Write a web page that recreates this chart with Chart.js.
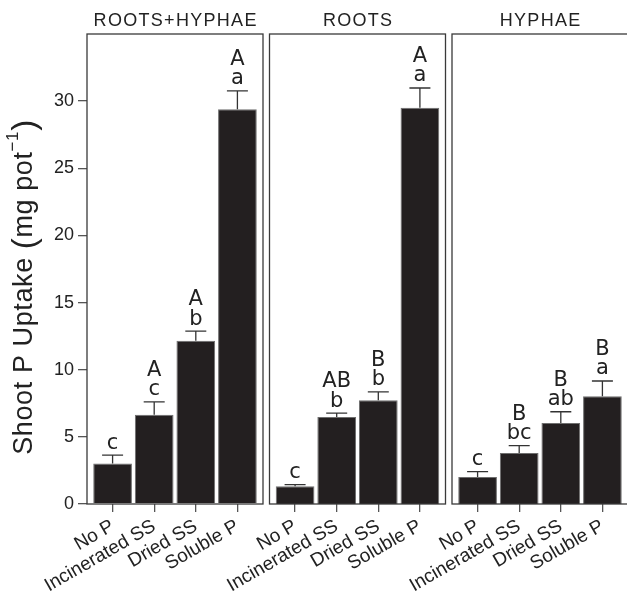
<!DOCTYPE html>
<html>
<head>
<meta charset="utf-8">
<script src="https://cdn.jsdelivr.net/npm/chart.js@4.4.1/dist/chart.umd.min.js"></script>
<style>
  html, body { margin: 0; padding: 0; background: #fff; overflow: hidden; width: 627px; height: 592px; }
  canvas { position: absolute; left: 0; top: 0; }
</style>
</head>
<body>
<canvas id="p1" width="700" height="592"></canvas>
<canvas id="p2" width="700" height="592"></canvas>
<canvas id="p3" width="700" height="592"></canvas>
<script>
// Treatments and panel names
const treatments = ['No P', 'Incinerated SS', 'Dried SS', 'Soluble P'];
const panelTitles = ['ROOTS+HYPHAE', 'ROOTS', 'HYPHAE'];
const yTickValues = [0, 5, 10, 15, 20, 25, 30];

// Shoot P uptake (mg pot-1), means and standard errors
const uptakeRootsHyphae = [3.02, 6.65, 12.15, 29.4];
const seRootsHyphae     = [0.62, 0.95, 0.72, 1.36];
const uptakeRoots       = [1.32, 6.47, 7.72, 29.5];
const seRoots           = [0.12, 0.30, 0.63, 1.48];
const uptakeHyphae      = [2.01, 3.80, 6.04, 8.02];
const seHyphae          = [0.40, 0.54, 0.83, 1.14];

// Significance letters (upper: between compartments, lower: between treatments)
const upperRootsHyphae = ['', 'A', 'A', 'A'];
const lowerRootsHyphae = ['c', 'c', 'b', 'a'];
const upperRoots       = ['', 'AB', 'B', 'A'];
const lowerRoots       = ['c', 'b', 'b', 'a'];
const upperHyphae      = ['', 'B', 'B', 'B'];
const lowerHyphae      = ['c', 'bc', 'ab', 'a'];

// Layout of the three panels
const CANVAS_W = 700;
const PANEL_LEFT = [87, 269.5, 452];
const PANEL_W = 176;
const PLOT_TOP = 34;
const X_AXIS_H = 88;
const FRAME_COLOR = '#3a3a3a';

const panelPlugin = {
  id: 'panelDecor',
  afterDatasetsDraw(chart) {
    const ctx = chart.ctx;
    const ds = chart.data.datasets[0];
    const meta = chart.getDatasetMeta(0);
    const yScale = chart.scales.y;
    ctx.save();
    ctx.strokeStyle = '#333';
    ctx.lineWidth = 1.3;
    ctx.fillStyle = '#222';
    ctx.font = '21px "DejaVu Sans"';
    ctx.textAlign = 'center';
    ctx.textBaseline = 'alphabetic';
    meta.data.forEach((bar, i) => {
      const v = ds.data[i].y;
      const capY = yScale.getPixelForValue(v + ds.errors[i]);
      ctx.beginPath();
      ctx.moveTo(bar.x, bar.y);
      ctx.lineTo(bar.x, capY);
      ctx.moveTo(bar.x - 10.5, capY);
      ctx.lineTo(bar.x + 10.5, capY);
      ctx.stroke();
      const lowY = capY - 6.5;
      ctx.fillText(ds.lower[i], bar.x, lowY);
      if (ds.upper[i]) ctx.fillText(ds.upper[i], bar.x, lowY - 19.5);
    });
    ctx.restore();
  },
  afterDraw(chart) {
    const ctx = chart.ctx;
    const a = chart.chartArea;
    const opts = chart.options.plugins.panelDecor;
    ctx.save();
    ctx.strokeStyle = FRAME_COLOR;
    ctx.lineWidth = 1.3;
    ctx.strokeRect(a.left, a.top, a.right - a.left, a.bottom - a.top);
    ctx.fillStyle = '#222';
    ctx.font = '18px "Liberation Sans"';
    ctx.letterSpacing = '1.3px';
    ctx.textAlign = 'center';
    ctx.textBaseline = 'alphabetic';
    ctx.fillText(opts.title, (a.left + a.right) / 2 + 0.65, 26);
    if (opts.yTitle) {
      ctx.translate(24, 287);
      ctx.rotate(-Math.PI / 2);
      ctx.letterSpacing = '0.6px';
      const mainFont = '27px "Liberation Sans"';
      const parenFont = '33px "Liberation Sans"';
      const supFont = '17px "Liberation Sans"';
      const parts = [
        { t: 'Shoot P Uptake ', f: mainFont, dy: 0 },
        { t: '(', f: parenFont, dy: 1 },
        { t: 'mg pot', f: mainFont, dy: 0 },
        { t: '\u22121', f: supFont, dy: -12 },
        { t: ')', f: parenFont, dy: 1 }
      ];
      let total = 0;
      parts.forEach(p => { ctx.font = p.f; p.w = ctx.measureText(p.t).width; total += p.w; });
      let x = -total / 2;
      ctx.textAlign = 'left';
      ctx.textBaseline = 'middle';
      parts.forEach(p => {
        ctx.font = p.f;
        ctx.fillText(p.t, x, p.dy + 1);
        x += p.w;
      });
    }
    ctx.restore();
  }
};

function makePanel(idx, values, errors, upper, lower) {
  const left = PANEL_LEFT[idx];
  const first = idx === 0;
  return new Chart(document.getElementById('p' + (idx + 1)), {
    type: 'bar',
    data: {
      datasets: [{
        data: values.map((v, i) => ({ x: i, y: v })),
        errors, upper, lower,
        backgroundColor: '#231f20',
        borderColor: '#6e6e6e',
        borderWidth: 1,
        barPercentage: 0.93,
        categoryPercentage: 1
      }]
    },
    options: {
      responsive: false,
      animation: false,
      devicePixelRatio: 1,
      layout: { padding: { left: first ? 0 : left, right: CANVAS_W - left - PANEL_W, top: PLOT_TOP, bottom: 0 } },
      plugins: {
        legend: { display: false },
        tooltip: { enabled: false },
        panelDecor: { title: panelTitles[idx], yTitle: first }
      },
      scales: {
        x: {
          type: 'linear',
          min: -0.615,
          max: 3.615,
          offset: false,
          afterBuildTicks: s => { s.ticks = treatments.map((_, i) => ({ value: i })); },
          afterFit: s => { s.height = X_AXIS_H; },
          grid: { display: true, offset: false, drawOnChartArea: false, drawTicks: true, tickLength: 8, color: '#555', lineWidth: 1.3 },
          border: { display: false },
          ticks: {
            autoSkip: false, minRotation: 30, maxRotation: 30, padding: 3,
            color: '#222', font: { family: 'Liberation Sans', size: 19 },
            callback: v => treatments[v]
          }
        },
        y: {
          min: 0,
          max: 35,
          display: first,
          afterBuildTicks: s => { s.ticks = yTickValues.map(v => ({ value: v })); },
          afterFit: s => { s.width = first ? left : 0; },
          grid: { display: true, drawOnChartArea: false, drawTicks: true, tickLength: 9, color: '#555', lineWidth: 1.3 },
          border: { display: false },
          ticks: { padding: 4, color: '#222', font: { family: 'Liberation Sans', size: 18 } }
        }
      }
    },
    plugins: [panelPlugin]
  });
}

makePanel(0, uptakeRootsHyphae, seRootsHyphae, upperRootsHyphae, lowerRootsHyphae);
makePanel(1, uptakeRoots, seRoots, upperRoots, lowerRoots);
makePanel(2, uptakeHyphae, seHyphae, upperHyphae, lowerHyphae);
</script>
</body>
</html>
